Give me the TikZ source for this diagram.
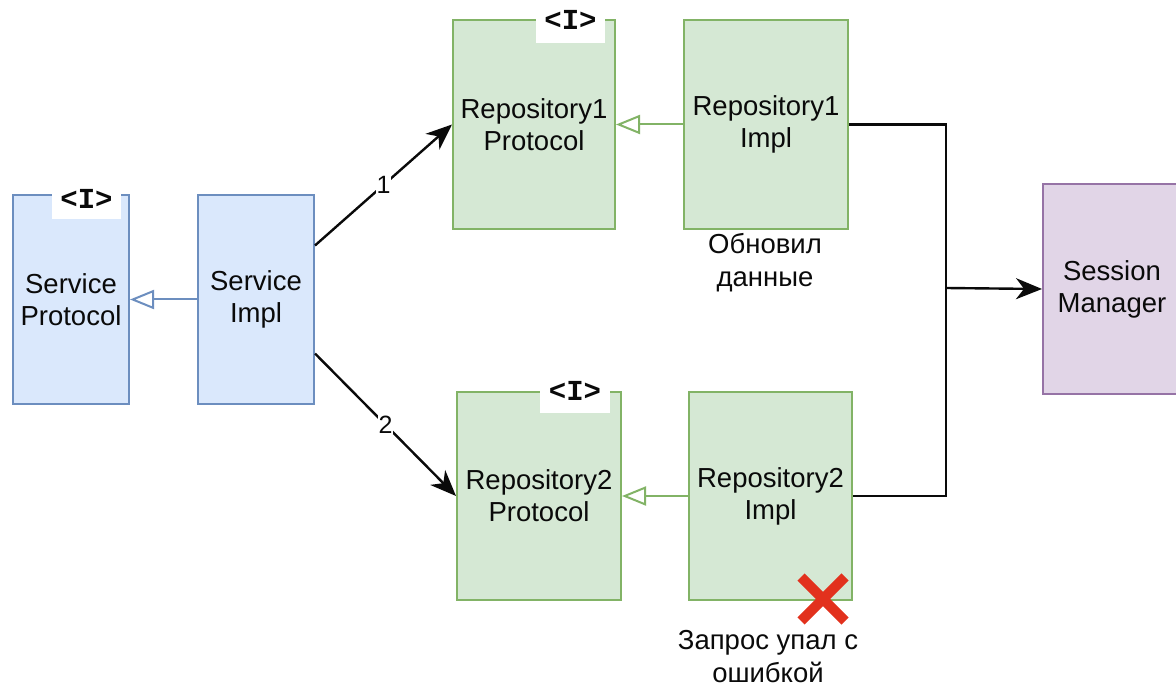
\documentclass[tikz,border=0pt]{standalone}
\usepackage{fontspec}
\setmainfont{Liberation Sans}
\newfontfamily\ifacefont{Liberation Mono}
\usetikzlibrary{arrows.meta,calc}

\definecolor{bluefill}{HTML}{DAE8FC}
\definecolor{bluestroke}{HTML}{6C8EBF}
\definecolor{greenfill}{HTML}{D5E8D4}
\definecolor{greenstroke}{HTML}{82B366}
\definecolor{purplefill}{HTML}{E1D5E7}
\definecolor{purplestroke}{HTML}{9673A6}
\definecolor{crossred}{HTML}{E2311D}
\definecolor{ink}{HTML}{0A0A0A}

\tikzset{
  box/.style={rectangle, anchor=north west, line width=2pt, align=center,
    inner sep=0pt, text=ink, font=\fontsize{27.5}{32}\selectfont},
  bluebox/.style={box, draw=bluestroke, fill=bluefill},
  greenbox/.style={box, draw=greenstroke, fill=greenfill},
  purplebox/.style={box, draw=purplestroke, fill=purplefill},
  ifacetag/.style={rectangle, fill=white, inner sep=0pt, text=ink,
    font=\ifacefont\bfseries\fontsize{29}{29}\selectfont},
  call/.style={draw=ink, line width=2.4pt,
    -{Stealth[length=26pt,width=21pt,inset=8pt]}},
  link/.style={draw=ink, line width=2.4pt},
  realize/.style={line width=2pt,
    -{Triangle[open,length=24pt,width=19pt,fill=white]}},
  note/.style={align=center, text=ink, font=\fontsize{27.5}{33}\selectfont},
  numlabel/.style={fill=white, inner sep=1pt, text=ink,
    font=\fontsize{25}{25}\selectfont}
}

\begin{document}
\begin{tikzpicture}[x=1pt,y=-1pt]
\useasboundingbox (0,0) rectangle (1176,687);

% service layer
\node[bluebox, minimum width=116pt, minimum height=209pt] (sp) at (12,194)
  {Service\\Protocol};
\node[bluebox, minimum width=116pt, minimum height=209pt] (si) at (197,194)
  {Service\\Impl};

% repository layer
\node[greenbox, minimum width=162pt, minimum height=209pt] (r1p) at (452,19)
  {Repository1\\Protocol};
\node[greenbox, minimum width=164pt, minimum height=209pt] (r1i) at (683,19)
  {Repository1\\Impl};
\node[greenbox, minimum width=164pt, minimum height=208pt] (r2p) at (456,391)
  {Repository2\\Protocol};
\node[greenbox, minimum width=163pt, minimum height=208pt] (r2i) at (688,391)
  {Repository2\\Impl};

% session manager
\node[purplebox, minimum width=138pt, minimum height=210pt] (sm) at (1042,183)
  {Session\\Manager};

% interface tags
\node[ifacetag, minimum width=69pt, minimum height=40pt] (tsp) at (86.5,199) {<I>};
\node[ifacetag, minimum width=69pt, minimum height=46pt] (tr1) at (570.5,20) {<I>};
\node[ifacetag, minimum width=70pt, minimum height=44pt] (tr2) at (575,391) {<I>};

% realization arrows
\draw[realize, draw=bluestroke] (si.west) -- (sp.east);
\draw[realize, draw=greenstroke] (r1i.west) -- (r1p.west -| r1p.east);
\draw[realize, draw=greenstroke] (r2i.west) -- (r2p.west -| r2p.east);

% calls from the service
\coordinate (siA) at ($(si.north east)!0.244!(si.south east)$);
\coordinate (siB) at ($(si.north east)!0.756!(si.south east)$);
\draw[call] (siA) -- node[numlabel] {1} (r1p.west);
\draw[call] (siB) -- node[numlabel] {2} (r2p.west);

% repositories to the session manager
\coordinate (join) at (946,288);
\draw[link] (r1i.east) -| (join);
\draw[link] (r2i.east) -| (join);
\draw[call] (join) -- (sm.west);

% notes
\node[note] (n1) at (765,263) {Обновил\\данные};
\node[note] (n2) at (768,657) {Запрос упал с\\ошибкой};

% failure mark
\coordinate (xc) at (823,599);
\draw[crossred, line width=10pt] ($(xc)+(-22,-22)$) -- ($(xc)+(22,22)$);
\draw[crossred, line width=10pt] ($(xc)+(22,-22)$) -- ($(xc)+(-22,22)$);
\end{tikzpicture}
\end{document}
